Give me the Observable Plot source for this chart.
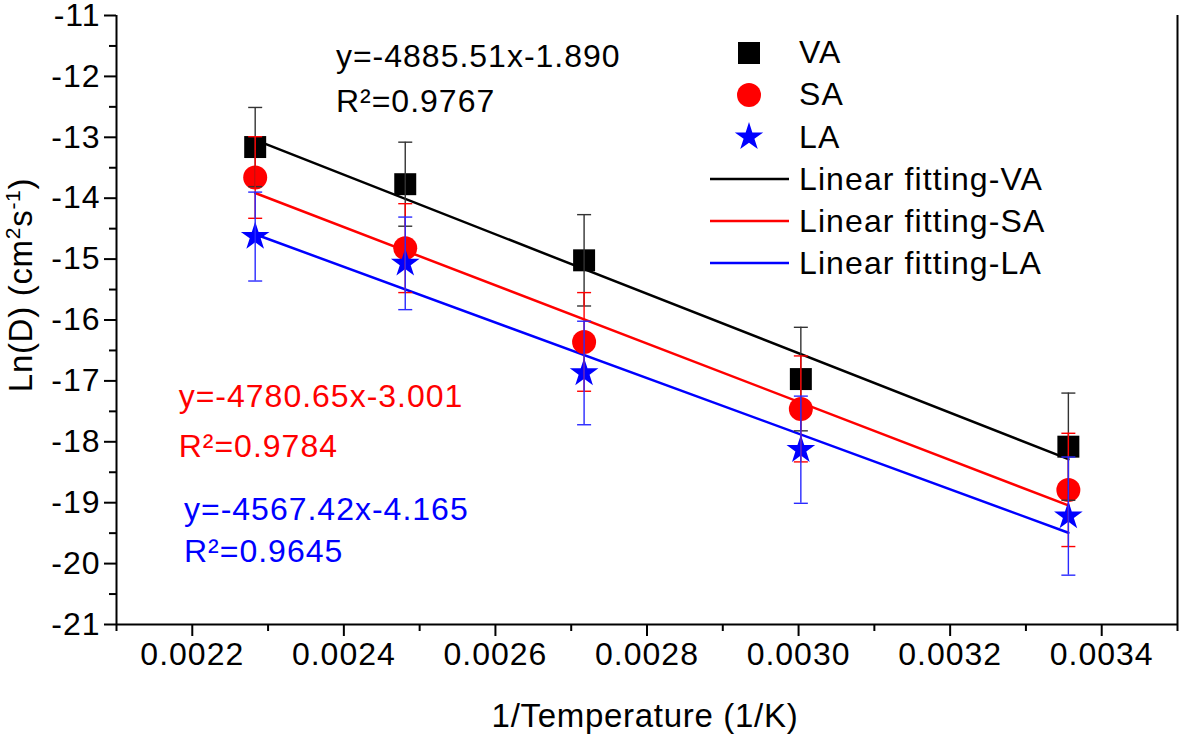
<!DOCTYPE html>
<html>
<head>
<meta charset="utf-8">
<script src="https://cdn.jsdelivr.net/npm/d3@7"></script>
<script src="https://cdn.jsdelivr.net/npm/@observablehq/plot@0.6"></script>
<style>
  html, body { margin: 0; padding: 0; background: #fff; }
  #chart { position: relative; width: 1179px; height: 736px; }
  svg { font-family: "Liberation Sans", Arial, sans-serif; }
  .tk text { letter-spacing: 1px; }
</style>
</head>
<body>
<div id="chart"></div>
<script>
// ---- data ----
const invTemp = [0.002283, 0.002481, 0.002717, 0.003003, 0.003356];
const vaLnD = [-13.16, -13.77, -15.02, -16.97, -18.08];
const vaErr = [0.65, 0.69, 0.75, 0.85, 0.88];
const saLnD = [-13.66, -14.82, -16.36, -17.46, -18.79];
const saErr = [0.67, 0.73, 0.81, 0.87, 0.93];
const laLnD = [-14.63, -15.07, -16.87, -18.13, -19.22];
const laErr = [0.73, 0.76, 0.85, 0.88, 0.97];

const seriesNames = ["VA", "SA", "LA"];
const seriesColors = ["#000000", "#ff0000", "#0000ff"];
const barColors = ["#333333", "#ff0000", "#2a2aff"];
const fitSlopes = [-4885.51, -4780.65, -4567.42];
const fitIntercepts = [-1.890, -3.001, -4.165];
const fitR2 = ["0.9767", "0.9784", "0.9645"];
const eqLabels = ["y=-4885.51x-1.890", "y=-4780.65x-3.001", "y=-4567.42x-4.165"];

const xTicks = [0.0022, 0.0024, 0.0026, 0.0028, 0.0030, 0.0032, 0.0034];
const xMinorTicks = [0.0021, 0.0023, 0.0025, 0.0027, 0.0029, 0.0031, 0.0033, 0.0035];
const yTicks = [-21, -20, -19, -18, -17, -16, -15, -14, -13, -12, -11];
const yMinorTicks = [-20.5, -19.5, -18.5, -17.5, -16.5, -15.5, -14.5, -13.5, -12.5, -11.5];

// annotation anchors (data space)
const eqX = [0.0023895, 0.002182, 0.002189];
const eqY = [-11.85, -17.43, -19.28];
const r2Y = [-12.59, -18.25, -19.98];

// ---- tables ----
const lnD = [vaLnD, saLnD, laLnD];
const errs = [vaErr, saErr, laErr];
const points = [];
seriesNames.forEach((s, i) => invTemp.forEach((x, j) => points.push({
  series: s, idx: i, x, y: lnD[i][j], err: errs[i][j]
})));
const fits = [];
seriesNames.forEach((s, i) => {
  [invTemp[0], invTemp[invTemp.length - 1]].forEach(x =>
    fits.push({series: s, idx: i, x, y: fitSlopes[i] * x + fitIntercepts[i]}));
});
const notes = seriesNames.map((s, i) => ({idx: i, x: eqX[i], y: eqY[i], y2: r2Y[i], eq: eqLabels[i], r2: "R²=" + fitR2[i]}));

const symbolFor = {VA: "square", SA: "circle", LA: "star"};
const capSymbol = {draw(ctx) { ctx.moveTo(-7, 0); ctx.lineTo(7, 0); }};

const marks = [
  // axis lines
  Plot.ruleX([0.0021], {strokeWidth: 2}),
  Plot.ruleX([0.0035], {strokeWidth: 2}),
  Plot.ruleY([-21], {strokeWidth: 2}),
  Plot.axisX(xTicks, {tickSize: 12, tickPadding: 6, fontSize: 32, tickFormat: d3.format(".4f"), strokeWidth: 2, label: null, fill: "#000", className: "tk"}),
  Plot.axisX(xMinorTicks, {tickSize: 7, tickFormat: () => "", strokeWidth: 2, label: null}),
  Plot.axisY(yTicks, {tickSize: 12, tickPadding: 4, fontSize: 32, tickFormat: d => d, strokeWidth: 2, label: null, fill: "#000", className: "tk"}),
  Plot.axisY(yMinorTicks, {tickSize: 7, tickFormat: () => "", strokeWidth: 2, label: null}),
  // fit lines
  Plot.line(fits, {x: "x", y: "y", z: "series", stroke: d => seriesColors[d.idx], strokeWidth: 2.5}),
];
// markers
seriesNames.forEach((s, i) => {
  marks.push(Plot.dot(points.filter(d => d.series === s), {
    x: "x", y: "y", symbol: () => symbolFor[s], fill: seriesColors[i], stroke: "none",
    r: s === "VA" ? 12.4 : s === "SA" ? 12 : 9
  }));
});
// error bars
seriesNames.forEach((s, i) => {
  const pts = points.filter(d => d.series === s);
  marks.push(Plot.ruleX(pts, {x: "x", y1: d => d.y - d.err, y2: d => d.y + d.err, stroke: barColors[i], strokeWidth: 1.4}));
  marks.push(Plot.dot(pts, {x: "x", y: d => d.y - d.err, symbol: capSymbol, r: 5, stroke: barColors[i], strokeWidth: 1.4, fill: "none"}));
  marks.push(Plot.dot(pts, {x: "x", y: d => d.y + d.err, symbol: capSymbol, r: 5, stroke: barColors[i], strokeWidth: 1.4, fill: "none"}));
});
// annotations
marks.push(Plot.text(notes, {x: "x", y: "y", text: "eq", fill: d => seriesColors[d.idx], textAnchor: "start", lineAnchor: "bottom", fontSize: 32, className: "tk"}));
marks.push(Plot.text(notes, {x: "x", y: "y2", text: "r2", fill: d => seriesColors[d.idx], textAnchor: "start", lineAnchor: "bottom", fontSize: 32, className: "tk"}));

const chart = Plot.plot({
  width: 1179, height: 736,
  marginLeft: 116, marginRight: 2, marginTop: 15, marginBottom: 112,
  style: {fontFamily: '"Liberation Sans", Arial, sans-serif', background: "#fff", overflow: "visible"},
  x: {domain: [0.0021, 0.0035]},
  y: {domain: [-21, -11]},
  marks
});
document.getElementById("chart").appendChild(chart);

// axis titles & legend overlay
const svg = d3.select(chart);
svg.append("text").attr("x", 645).attr("y", 727).attr("text-anchor", "middle")
  .attr("font-size", 33).attr("letter-spacing", "0.7px").attr("fill", "#000").text("1/Temperature (1/K)");
const yl = svg.append("text").attr("transform", "translate(32,285) rotate(-90)")
  .attr("text-anchor", "middle").attr("font-size", 33).attr("letter-spacing", "0.7px").attr("fill", "#000");
yl.append("tspan").text("Ln(D) (cm");
yl.append("tspan").attr("dy", -12).attr("font-size", 21).text("2");
yl.append("tspan").attr("dy", 12).text("s");
yl.append("tspan").attr("dy", -12).attr("font-size", 21).text("-1");
yl.append("tspan").attr("dy", 12).text(")");

const lg = svg.append("g").attr("text-anchor", "start");
const symY = [53, 95, 137];
const symBase = [63, 105, 148];
const d3Sym = [d3.symbolSquare, d3.symbolCircle, d3.symbolStar];
const symSize = [484, 452, 250];
seriesNames.forEach((s, i) => {
  lg.append("path").attr("transform", `translate(749,${symY[i]})`)
    .attr("d", d3.symbol(d3Sym[i], symSize[i])()).attr("fill", seriesColors[i]);
  lg.append("text").attr("x", 799).attr("y", symBase[i]).attr("font-size", 32)
    .attr("letter-spacing", "1.1px").attr("text-anchor", "start").attr("fill", "#000").text(s);
});
const lineY = [179, 221, 263];
const lineBase = [190, 232, 274];
seriesNames.forEach((s, i) => {
  lg.append("line").attr("x1", 710).attr("x2", 789).attr("y1", lineY[i]).attr("y2", lineY[i])
    .attr("stroke", seriesColors[i]).attr("stroke-width", 2.5);
  lg.append("text").attr("x", 799).attr("y", lineBase[i]).attr("font-size", 32)
    .attr("letter-spacing", "1.1px").attr("text-anchor", "start").attr("fill", "#000").text("Linear fitting-" + s);
});
</script>
</body>
</html>
